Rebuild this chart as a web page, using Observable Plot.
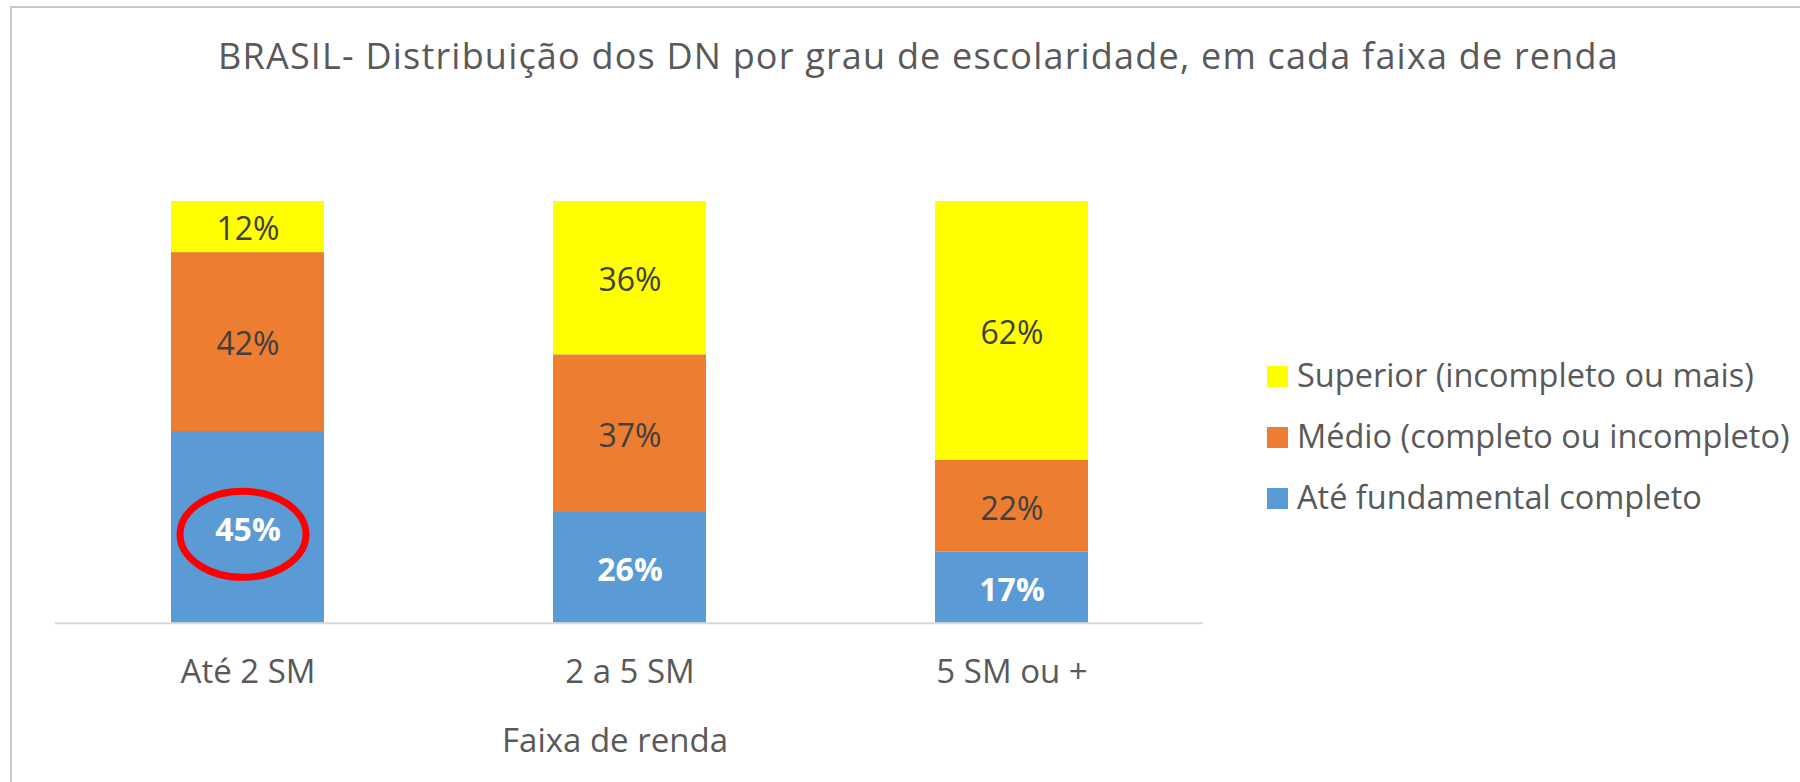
<!DOCTYPE html>
<html>
<head>
<meta charset="utf-8">
<script src="https://cdn.jsdelivr.net/npm/d3@7"></script>
<script src="https://cdn.jsdelivr.net/npm/@observablehq/plot@0.6"></script>
<style>
  html, body { margin: 0; padding: 0; background: #fff; }
  body { width: 1800px; height: 782px; overflow: hidden; position: relative; font-family: "Open Sans", sans-serif; }
  #frame { position: absolute; left: 10px; top: 6px; width: 1850px; height: 850px; border-left: 2px solid #c8c8c8; border-top: 2px solid #c8c8c8; box-sizing: border-box; z-index: 10; pointer-events: none; }
  #title { position: absolute; left: 918.5px; top: 36px; transform: translateX(-50%); white-space: nowrap; font-size: 36px; letter-spacing: 1.2px; line-height: 40px; color: #595959; }
  #chart { position: absolute; left: 0; top: 100px; }
  #legend { position: absolute; left: 1267px; top: 344px; }
  .row { display: flex; align-items: center; height: 61px; white-space: nowrap; }
  .sw { width: 21px; height: 21px; margin-right: 9px; position: relative; top: 2px; }
  .lab { font-size: 32.5px; line-height: 61px; color: #595959; }
</style>
</head>
<body>
<div id="frame"></div>
<div id="title"></div>
<div id="chart"></div>
<div id="legend"></div>
<script>
const titleText = "BRASIL- Distribuição dos DN por grau de escolaridade, em cada faixa de renda";
const axisTitle = "Faixa de renda";
const categories = ["Até 2 SM", "2 a 5 SM", "5 SM ou +"];
const levels = ["Até fundamental completo", "Médio (completo ou incompleto)", "Superior (incompleto ou mais)"];
const fundamental = [45, 26, 17];
const medio = [42, 37, 22];
const superior = [12, 36, 62];
const colors = ["#5b9bd5", "#ed7d31", "#ffff00"];
const highlightCategory = "Até 2 SM";
const highlightLevel = "Até fundamental completo";

const series = [fundamental, medio, superior];
const data = [];
categories.forEach((c, i) => {
  levels.forEach((l, j) => {
    data.push({category: c, level: l, value: series[j][i]});
  });
});

document.getElementById("title").textContent = titleText;

const stackOpts = {x: "category", y: "value", z: "level", order: levels, offset: "normalize"};

const ellipseSymbol = {
  draw(ctx, size) {
    const r = Math.sqrt(size / Math.PI);
    const rx = r * 63 / 43, ry = r, k = 0.5523;
    ctx.moveTo(rx, 0);
    ctx.bezierCurveTo(rx, k * ry, k * rx, ry, 0, ry);
    ctx.bezierCurveTo(-k * rx, ry, -rx, k * ry, -rx, 0);
    ctx.bezierCurveTo(-rx, -k * ry, -k * rx, -ry, 0, -ry);
    ctx.bezierCurveTo(k * rx, -ry, rx, -k * ry, rx, 0);
    ctx.closePath();
  }
};

const chart = Plot.plot({
  width: 1800,
  height: 682,
  marginLeft: 55,
  marginRight: 597,
  marginTop: 101,
  marginBottom: 159.3,
  style: {fontFamily: "'Open Sans', sans-serif", background: "transparent"},
  x: {domain: categories, paddingInner: 0.6, paddingOuter: 0.3, label: null},
  y: {domain: [0, 1], axis: null},
  color: {domain: levels, range: colors},
  marks: [
    Plot.barY(data, Plot.stackY({...stackOpts, fill: "level"})),
    Plot.ruleY([0], {stroke: "#d9d9d9", strokeWidth: 2}),
    Plot.text(data, Plot.filter(d => d.level !== levels[0], Plot.stackY({...stackOpts, text: d => d.value + "%", fill: "#404040", fontSize: 32, dy: 3}))),
    Plot.text(data, Plot.filter(d => d.level === levels[0], Plot.stackY({...stackOpts, text: d => d.value + "%", fill: "white", fontSize: 32, fontWeight: "bold", dy: 3}))),
    Plot.dot(data, Plot.filter(d => d.category === highlightCategory && d.level === highlightLevel, Plot.stackY({...stackOpts, symbol: ellipseSymbol, r: 43, stroke: "#ff0000", strokeWidth: 7, fill: "none", dx: -5, dy: 7}))),
    Plot.axisX({tickSize: 0, tickPadding: 36, fontSize: 33, color: "#595959", label: null}),
    Plot.text([axisTitle], {frameAnchor: "bottom", dx: -14.5, dy: 129, fontSize: 33, fill: "#595959"})
  ]
});
document.getElementById("chart").appendChild(chart);

const legend = document.getElementById("legend");
[...levels].reverse().forEach(l => {
  const row = document.createElement("div");
  row.className = "row";
  const sw = document.createElement("div");
  sw.className = "sw";
  sw.style.background = colors[levels.indexOf(l)];
  const lab = document.createElement("span");
  lab.className = "lab";
  lab.textContent = l;
  row.appendChild(sw);
  row.appendChild(lab);
  legend.appendChild(row);
});
</script>
</body>
</html>
